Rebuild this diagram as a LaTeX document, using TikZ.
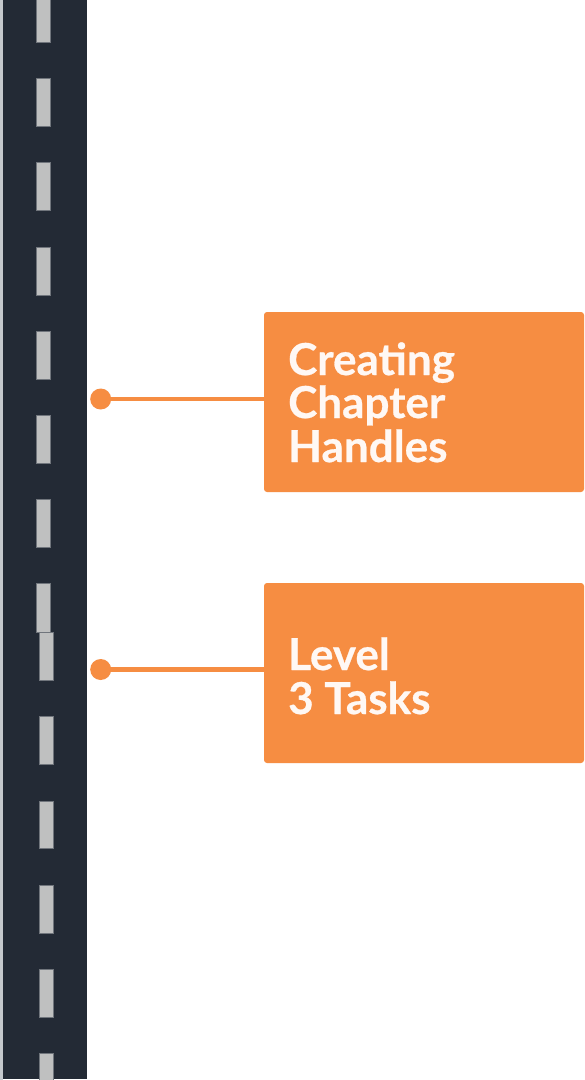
\documentclass[tikz,border=0pt]{standalone}
\usepackage{fontspec}
\setmainfont{Lato}[BoldFeatures={FakeBold=0.6}]
\definecolor{road}{HTML}{232A35}
\definecolor{dashfill}{HTML}{BFC0C0}
\definecolor{dashedge}{HTML}{70757C}
\definecolor{orng}{HTML}{F68D42}
\definecolor{txt}{HTML}{FFF8F4}
\definecolor{edge}{HTML}{C4C8CC}
\tikzset{
  lanedash/.style={fill=dashfill, draw=dashedge, line width=0.8pt},
  card/.style={fill=orng, draw=none, rounded corners=3pt, minimum width=320pt, minimum height=180pt, inner sep=0pt},
  cardtext/.style={anchor=base west, inner sep=0pt, text=txt, font=\fontsize{44}{43}\selectfont\bfseries},
  dot/.style={circle, fill=orng, draw=none, minimum size=21pt, inner sep=0pt},
  link/.style={draw=orng, line width=4.5pt}
}
\begin{document}
\begin{tikzpicture}[x=1pt,y=-1pt]
\useasboundingbox (0,0) rectangle (585,1080);
\fill[white] (0,0) rectangle (585,1080);
% road
\fill[edge] (0,0) rectangle (3,1080);
\fill[road] (2.7,0) rectangle (87.3,1079);
% lane dashes (upper)
\foreach \a/\b in {-2/42, 78/126, 162/210, 247/295, 331/379, 415/463, 499/547, 583/632}
  \draw[lanedash] (36.8,\a) rectangle (50.6,\b);
% lane dashes (lower)
\foreach \a/\b in {632/680, 716/764, 801/848, 885/933, 969/1017, 1053/1082}
  \draw[lanedash] (39.6,\a) rectangle (53,\b);
% cards
\node[card] (b1) at (424,402) {};
\node[card] (b2) at (424,673) {};
\node[cardtext] (t1a) at (288,375) {Creating};
\node[cardtext] (t1b) at (288,418) {Chapter};
\node[cardtext] (t1c) at (288,462) {Handles};
\node[cardtext] (t2a) at (288,670) {Level};
\node[cardtext] (t2b) at (288,714) {3 Tasks};
% connectors
\node[dot] (d1) at (100.7,399) {};
\node[dot] (d2) at (100.7,669.5) {};
\draw[link] (d1.center) -- (d1 -| b1.west);
\draw[link] (d2.center) -- (d2 -| b2.west);
\end{tikzpicture}
\end{document}
